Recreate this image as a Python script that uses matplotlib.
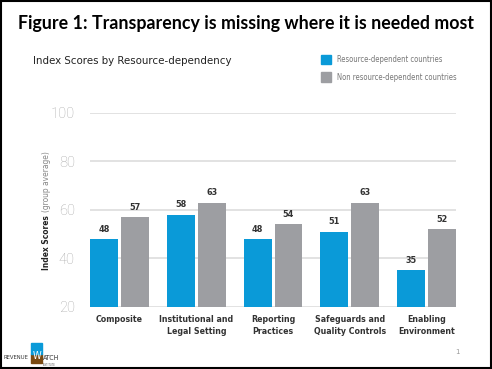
import matplotlib
matplotlib.use("Agg")
import matplotlib.pyplot as plt
from matplotlib.patches import Rectangle
import numpy as np

categories = ["Composite", "Institutional and\nLegal Setting", "Reporting\nPractices",
              "Safeguards and\nQuality Controls", "Enabling\nEnvironment"]
resource_dep = [48, 58, 48, 51, 35]
non_resource_dep = [57, 63, 54, 63, 52]
series_names = ["Resource-dependent countries", "Non resource-dependent countries"]
yticks = [20, 40, 60, 80, 100]

blue = "#0a9ad8"
grey = "#9d9ea2"
narrow = dict(family="DejaVu Sans", stretch="condensed")

fig = plt.figure(figsize=(4.92, 3.69), dpi=100)
ax = fig.add_axes([0.183, 0.169, 0.744, 0.525])

x = np.arange(len(categories))
w = 0.364
off = 0.201
b1 = ax.bar(x - off, resource_dep, w, color=blue, zorder=3)
b2 = ax.bar(x + off, non_resource_dep, w, color=grey, zorder=3)

for bars, vals in [(b1, resource_dep), (b2, non_resource_dep)]:
    for r, v in zip(bars, vals):
        ax.text(r.get_x() + r.get_width() / 2, v + 2.2, str(v), ha="center", va="bottom",
                fontsize=6.5, fontweight="bold", color="#333333", **narrow)

ax.set_ylim(20, 100)
ax.set_xlim(-off - w / 2, len(categories) - 1 + off + w / 2)
ax.set_yticks(yticks)
ax.set_yticklabels([str(t) for t in yticks], fontsize=10.5, color="#aaaaaa",
                   family=["Roboto", "DejaVu Sans"], fontweight="light")
ax.set_xticks(x)
ax.set_xticklabels(categories, fontsize=6.3, fontweight="bold", color="#333333",
                   linespacing=1.45, **narrow)
ax.tick_params(axis="both", length=0)
ax.tick_params(axis="y", pad=11)
ax.tick_params(axis="x", pad=6)
ax.grid(axis="y", color="#dddddd", linewidth=1.2, zorder=0)
for s in ax.spines.values():
    s.set_visible(False)

# y label in two weights
fig.text(0.095, 0.268, "Index Scores", rotation=90, ha="center", va="bottom",
         fontsize=6, fontweight="bold", color="#222222", **narrow)
fig.text(0.095, 0.425, "(group average)", rotation=90, ha="center", va="bottom",
         fontsize=6, color="#888888", **narrow)

# titles
fig.text(0.5, 0.935, "Figure 1: Transparency is missing where it is needed most",
         ha="center", va="center", fontsize=12.8, fontweight="bold", color="black",
         family=["Lato", "DejaVu Sans"])
fig.text(0.067, 0.835, "Index Scores by Resource-dependency", ha="left", va="center",
         fontsize=8.2, fontweight="medium", color="#222222", **narrow)

# legend
for i, (name, c) in enumerate(zip(series_names, [blue, grey])):
    yy = 0.838 - i * 0.047
    fig.patches.append(Rectangle((0.652, yy - 0.012), 0.02, 0.026, color=c,
                                 transform=fig.transFigure))
    fig.text(0.685, yy, name, ha="left", va="center", fontsize=5.5, color="#777777",
             **narrow)

# footer logo and page number
fig.text(0.008, 0.03, "REVENUE", ha="left", va="center", fontsize=4.2, color="#333333",
         **narrow)
fig.patches.append(Rectangle((0.064, 0.016), 0.022, 0.024, color="#7a4a12",
                             transform=fig.transFigure))
fig.patches.append(Rectangle((0.064, 0.040), 0.022, 0.030, color=blue,
                             transform=fig.transFigure))
fig.text(0.075, 0.036, "W", ha="center", va="center", fontsize=7, color="white",
         **narrow)
fig.text(0.087, 0.03, "ATCH", ha="left", va="center", fontsize=5, color="#333333",
         **narrow)
fig.text(0.087, 0.012, "INSTITUTE", ha="left", va="center", fontsize=2, color="#555555",
         **narrow)
fig.text(0.93, 0.045, "1", ha="center", va="center", fontsize=5, color="#999999")

# slide border
fig.patches.append(Rectangle((0.002, 0.003), 0.995, 0.994, fill=False, edgecolor="black",
                             linewidth=1.5, transform=fig.transFigure))

fig.savefig("out.png", dpi=100)
